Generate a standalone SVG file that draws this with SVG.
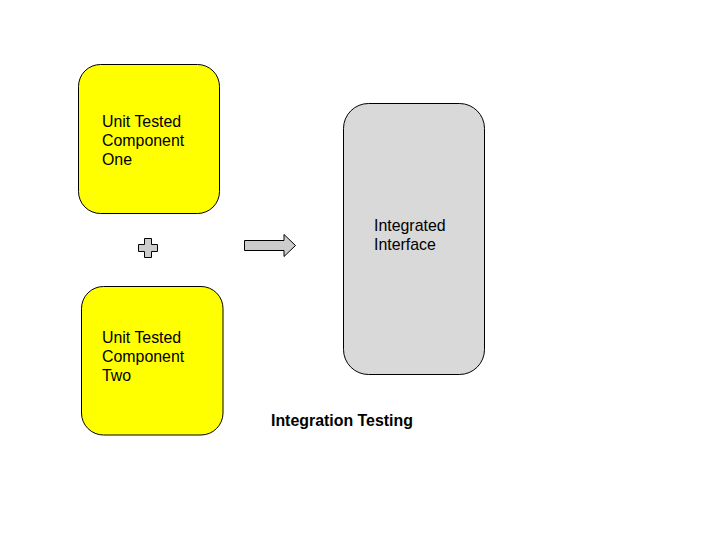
<svg xmlns="http://www.w3.org/2000/svg" width="720" height="540" viewBox="0 0 720 540">
<style>
.box{stroke:#000;stroke-width:1}
.yel{fill:#ffff00}
.gry{fill:#d9d9d9}
.t{font-family:"Liberation Sans",Arial,sans-serif;font-size:15.9px;fill:#000}
.b{font-weight:bold}
.sym{fill:#cccccc;stroke:#000;stroke-width:1}
</style>
<rect width="720" height="540" fill="#fff"/>
<g id="unit-one">
<rect class="box yel" x="78.5" y="64.5" width="141" height="149" rx="22" ry="22"/>
<text class="t" x="102" y="127">Unit Tested</text>
<text class="t" x="102" y="146">Component</text>
<text class="t" x="102" y="165">One</text>
</g>
<g id="unit-two">
<rect class="box yel" x="81.5" y="286.5" width="141.5" height="148.5" rx="22" ry="22"/>
<text class="t" x="102" y="343">Unit Tested</text>
<text class="t" x="102" y="362">Component</text>
<text class="t" x="102" y="381">Two</text>
</g>
<g id="plus">
<path class="sym" d="M144.5,238.5 H151.5 V244.5 H157.5 V251.5 H151.5 V257.5 H144.5 V251.5 H138.5 V244.5 H144.5 Z"/>
</g>
<g id="connectors">
<path class="sym" d="M244.5,240.5 H284 V234.5 L295.5,245.5 L284,256.5 V250.5 H244.5 Z"/>
</g>
<g id="integrated">
<rect class="box gry" x="343.5" y="103.5" width="141" height="271" rx="25" ry="25"/>
<text class="t" x="374" y="231">Integrated</text>
<text class="t" x="374" y="250">Interface</text>
</g>
<g id="caption">
<text class="t b" x="271" y="426">Integration Testing</text>
</g>
</svg>
